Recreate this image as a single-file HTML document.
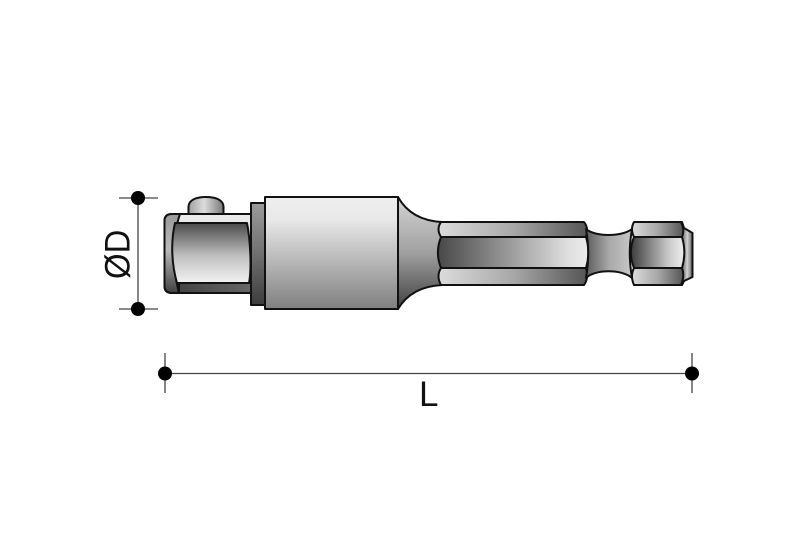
<!DOCTYPE html>
<html>
<head>
<meta charset="utf-8">
<style>
html,body{margin:0;padding:0;background:#fff;width:800px;height:534px;overflow:hidden}
svg{display:block}
text{font-family:"Liberation Sans",sans-serif;fill:#111}
</style>
</head>
<body>
<svg width="800" height="534" viewBox="0 0 800 534" xmlns="http://www.w3.org/2000/svg">
<defs>
<linearGradient id="body" x1="0" y1="0" x2="0" y2="1">
<stop offset="0" stop-color="#efefef"/><stop offset=".2" stop-color="#e8e8e8"/><stop offset="1" stop-color="#808080"/>
</linearGradient>
<linearGradient id="taper" x1="0" y1="0" x2="0" y2="1">
<stop offset="0" stop-color="#d4d4d4"/><stop offset=".5" stop-color="#a0a0a0"/><stop offset="1" stop-color="#404040"/>
</linearGradient>
<linearGradient id="collar" x1="0" y1="0" x2="0" y2="1">
<stop offset="0" stop-color="#9a9a9a"/><stop offset=".5" stop-color="#707070"/><stop offset="1" stop-color="#3d3d3d"/>
</linearGradient>
<linearGradient id="square" x1="0" y1="0" x2="0" y2="1">
<stop offset="0" stop-color="#4a4a4a"/><stop offset=".55" stop-color="#c0c0c0"/><stop offset="1" stop-color="#f2f2f2"/>
</linearGradient>
<linearGradient id="lip" x1="0" y1="0" x2="0" y2="1">
<stop offset="0" stop-color="#999"/><stop offset=".45" stop-color="#bbb"/><stop offset="1" stop-color="#404040"/>
</linearGradient>
<linearGradient id="low" x1="0" y1="0" x2="1" y2="0">
<stop offset="0" stop-color="#444"/><stop offset="1" stop-color="#666"/>
</linearGradient>
<linearGradient id="pin" x1="0" y1="0" x2="1" y2="0">
<stop offset="0" stop-color="#a0a0a0"/><stop offset=".45" stop-color="#dcdcdc"/><stop offset="1" stop-color="#777"/>
</linearGradient>
<linearGradient id="hexD" x1="0" y1="0" x2="1" y2="0">
<stop offset="0" stop-color="#484848"/><stop offset=".85" stop-color="#dcdcdc"/><stop offset="1" stop-color="#ececec"/>
</linearGradient>
<linearGradient id="hexT" x1="0" y1="0" x2="1" y2="0">
<stop offset="0" stop-color="#dcdcdc"/><stop offset=".5" stop-color="#a8a8a8"/><stop offset="1" stop-color="#555"/>
</linearGradient>
<linearGradient id="neck" x1="0" y1="0" x2="1" y2="0">
<stop offset="0" stop-color="#5c5c5c"/><stop offset=".5" stop-color="#a8a8a8"/><stop offset="1" stop-color="#c8c8c8"/>
</linearGradient>
<linearGradient id="tipD" x1="0" y1="0" x2="1" y2="0">
<stop offset="0" stop-color="#666"/><stop offset=".5" stop-color="#d0d0d0"/><stop offset="1" stop-color="#666"/>
</linearGradient>
<linearGradient id="hex2D" x1="0" y1="0" x2="1" y2="0">
<stop offset="0" stop-color="#3e3e3e"/><stop offset=".7" stop-color="#c8c8c8"/><stop offset="1" stop-color="#eee"/>
</linearGradient>
</defs>

<!-- dimension lines -->
<g stroke="#444" stroke-width="1.300" fill="none">
<path d="M138 198V309"/>
<path d="M119 198H158M119 309H158"/>
<path d="M165 353V393M692 353V393"/>
<path d="M165 373.500H692"/>
</g>
<g fill="#000">
<circle cx="138" cy="198" r="7"/>
<circle cx="138" cy="309" r="7"/>
<circle cx="165" cy="373.500" r="7"/>
<circle cx="692" cy="373.500" r="7"/>
</g>
<text transform="translate(129.500,279) rotate(-90) scale(.94,1)" font-size="35">ØD</text>
<text x="419" y="406" font-size="35">L</text>

<g stroke="#111" stroke-width="2" stroke-linejoin="round">
<!-- pin -->
<path d="M188.500 214V207C188.500 200 196 197 206 197C216 197 223.500 200 223.500 207V214Z" fill="url(#pin)"/>
<!-- socket outer -->
<path d="M251 214H172Q164.500 214 164.500 221V286Q164.500 293 172 293H251Z" fill="#eaeaea"/>
<path d="M180 214H172Q164.500 214 164.500 221V286Q164.500 293 172 293H179C173 270 171 240 180 214Z" fill="url(#lip)"/>
<path d="M179 283H251V293H179Z" fill="url(#low)"/>
<!-- square -->
<path d="M175 223H247C250 238 252 268 249 283H177C171 262 171 240 175 223Z" fill="url(#square)"/>
<!-- collar -->
<rect x="251" y="203" width="14" height="102" fill="url(#collar)"/>
<!-- taper -->
<path d="M398 197C407 213 422 221 442 222V285C422 286 407 294 398 309Z" fill="url(#taper)"/>
<!-- body -->
<rect x="265" y="197" width="133" height="112" fill="url(#body)"/>
<!-- shank hex -->
<path d="M441 222H584Q589 228 586 237H441Q436 229 441 222Z" fill="url(#hexT)"/>
<path d="M441 268H586Q589 278 584 285H441Q436 276 441 268Z" fill="url(#hexT)"/>
<path d="M441 237H586C589 247 589 258 586 268H441C437 258 437 247 441 237Z" fill="url(#hexD)"/>
<!-- neck -->
<path d="M586 229C595 237 622 237 632 229C629 246 629 260 632 278C622 269 595 269 586 278C589 260 589 246 586 229Z" fill="url(#neck)"/>
<!-- tip -->
<path d="M682 222L684 228L692.500 233V277L684 281L682 285Z" fill="url(#tipD)"/>
<!-- head hex -->
<path d="M634 222H681Q685 230 682 237H634Q630 229 634 222Z" fill="url(#hexT)"/>
<path d="M634 268H682Q685 276 681 285H634Q630 276 634 268Z" fill="url(#hexT)"/>
<path d="M634 237H682C685 247 685 258 682 268H634C630 258 630 247 634 237Z" fill="url(#hex2D)"/>
</g>
</svg>
</body>
</html>
